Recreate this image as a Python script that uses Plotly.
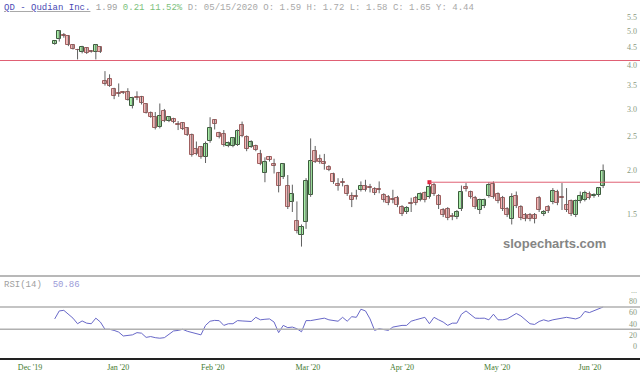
import plotly.graph_objects as go

# ---------------- data ----------------
opens = [4.60,4.76,4.88,4.84,4.58,4.43,4.38,4.48,4.40,4.38,4.51,
         3.61,3.65,3.42,3.33,3.35,3.35,3.06,3.24,3.25,3.09,2.93,2.85,2.67,2.96,2.77,2.81,2.71,2.73,2.64,
         2.53,2.31,2.33,2.18,2.43,2.79,2.56,2.55,2.35,2.35,2.37,2.69,2.50,2.34,2.35,2.23,1.96,2.18,2.09,1.96,
         1.91,1.80,1.62,1.43,1.31,1.42,1.70,2.28,2.16,2.11,2.04,1.95,1.83,1.85,1.80,1.69,1.69,1.76,1.81,1.79,
         1.77,1.77,1.70,1.68,1.66,1.67,1.57,1.52,1.61,1.67,1.65,1.72,1.68,1.82,1.69,1.54,1.55,1.48,1.47,1.55,
         1.79,1.73,1.67,1.54,1.58,1.69,1.83,1.71,1.67,1.55,1.45,1.69,1.57,1.49,1.49,1.49,1.67,1.50,1.57,1.62,
         1.74,1.68,1.59,1.63,1.49,1.63,1.65,1.71,1.69,1.70,1.80]
highs = [4.70,5.05,4.95,4.88,4.60,4.46,4.55,4.50,4.42,4.60,4.53,
         3.85,3.77,3.45,3.55,3.37,3.44,3.25,3.37,3.27,3.11,2.95,2.94,3.11,3.00,2.86,2.83,2.77,2.75,2.66,
         2.55,2.42,2.35,2.42,2.84,2.80,2.58,2.61,2.42,2.49,2.62,2.76,2.52,2.44,2.37,2.29,2.18,2.20,2.16,1.98,
         2.10,1.94,1.82,1.63,1.40,1.90,2.47,2.35,2.22,2.23,2.07,1.97,1.90,1.90,1.82,1.73,1.76,1.86,1.88,1.83,
         1.79,1.86,1.72,1.70,1.76,1.69,1.59,1.58,1.67,1.69,1.73,1.74,1.84,1.84,1.71,1.56,1.57,1.51,1.54,1.81,
         1.84,1.75,1.69,1.66,1.66,1.85,1.86,1.73,1.69,1.57,1.72,1.74,1.59,1.51,1.51,1.51,1.69,1.54,1.59,1.78,
         1.76,1.84,1.78,1.65,1.65,1.74,1.75,1.74,1.72,1.79,2.08]
lows = [4.58,4.68,4.80,4.54,4.44,4.16,4.33,4.31,4.35,4.16,4.34,
        3.50,3.47,3.20,3.25,3.31,3.17,3.01,3.18,3.09,2.91,2.83,2.62,2.64,2.75,2.75,2.73,2.61,2.61,2.51,
        2.19,2.21,2.16,2.10,2.40,2.62,2.47,2.34,2.33,2.33,2.35,2.49,2.27,2.32,2.27,2.07,1.85,2.12,1.96,1.73,
        1.89,1.55,1.52,1.32,1.21,1.36,1.68,2.10,2.09,2.01,1.99,1.83,1.75,1.80,1.69,1.57,1.65,1.74,1.74,1.73,
        1.70,1.72,1.62,1.59,1.61,1.57,1.48,1.50,1.52,1.59,1.63,1.62,1.66,1.69,1.55,1.47,1.44,1.44,1.45,1.53,
        1.74,1.66,1.55,1.50,1.56,1.67,1.66,1.61,1.53,1.47,1.40,1.56,1.44,1.43,1.43,1.41,1.52,1.48,1.51,1.60,
        1.59,1.54,1.52,1.48,1.47,1.61,1.63,1.65,1.67,1.68,1.78]
closes = [4.69,5.03,4.84,4.56,4.46,4.42,4.51,4.33,4.37,4.56,4.36,
          3.53,3.49,3.27,3.32,3.33,3.19,3.23,3.23,3.11,2.93,2.85,2.64,2.87,2.77,2.84,2.75,2.70,2.63,2.53,
          2.22,2.23,2.18,2.38,2.64,2.72,2.49,2.37,2.40,2.47,2.60,2.51,2.30,2.42,2.29,2.09,2.11,2.14,2.06,1.80,
          2.08,1.57,1.71,1.34,1.38,1.87,2.13,2.12,2.11,2.09,2.01,1.85,1.80,1.84,1.71,1.65,1.68,1.81,1.76,1.78,
          1.72,1.76,1.64,1.61,1.65,1.59,1.50,1.56,1.60,1.61,1.71,1.64,1.79,1.71,1.59,1.49,1.46,1.47,1.52,1.74,
          1.77,1.68,1.57,1.64,1.64,1.82,1.68,1.63,1.55,1.49,1.68,1.58,1.46,1.45,1.45,1.45,1.54,1.52,1.53,1.75,
          1.61,1.67,1.54,1.50,1.63,1.69,1.72,1.67,1.70,1.78,1.99]
rsi = [48.6,63,64,57,50,40,45,41,40,50,43,30,30,28,25,18,19,20,24,23,
       15.5,17,15,14,15,21,27,28,30,26.5,24,22.5,20,37,44.5,46,45.5,37,40,40,
       45.6,45,44.5,44,51.5,47,48,48.6,43,24,37,33,34,31,25.5,45.6,45.6,47,48.5,50,
       47,45.5,44.5,51.5,44.5,52.6,51.5,66,63,48.6,28,31,29,28,34,36,37,37,44.5,47,
       48.6,51.5,40,51.5,47,43,37,41,41,57,63,56,50,49.7,50,47,57,47,47,48.6,
       53,58.4,54,47,40,38.7,44,47,44.5,47,48,50,51.5,50,48.6,51.5,62,60,63,66,70]
idx = list(range(len(closes)))

resistance_high = 4.13
resistance_low = 1.85
resistance_start = 82

month_labels = ["Dec '19", "Jan '20", "Feb '20", "Mar '20", "Apr '20", "May '20", "Jun '20"]
month_pos = [-5.4, 13.9, 34.6, 55.4, 76.0, 96.8, 117.1]
price_ticks = [1.5, 2.0, 2.5, 3.0, 3.5, 4.0, 4.5, 5.0, 5.5]
price_tick_text = ["1.5", "2.0", "2.5", "3.0", "3.5", "4.0", "4.5", "5.0", "5.5"]
rsi_ticks = [0, 20, 40, 60, 80, 100]
rsi_tick_text = ["0", "20", "40", "60", "80", "..."]

# ---------------- figure ----------------
up = [c >= o for o, c in zip(opens, closes)]
body_base = [min(o, c) for o, c in zip(opens, closes)]
body_len = [max(abs(c - o), 0.004) for o, c in zip(opens, closes)]
fill_cols = ["#a6eea6" if u else "#f5b8b8" for u in up]
edge_cols = ["#3c5c3c" if u else "#a06060" for u in up]

wx, wy = [], []
for i, h, l in zip(idx, highs, lows):
    wx += [i, i, None]
    wy += [l, h, None]

fig = go.Figure()
fig.add_trace(go.Scatter(x=wx, y=wy, mode="lines", line=dict(color="#606060", width=1),
                         xaxis="x", yaxis="y", showlegend=False, hoverinfo="skip"))
fig.add_trace(go.Bar(x=idx, y=body_len, base=body_base, width=0.88,
                     marker=dict(color=fill_cols, line=dict(color=edge_cols, width=1)),
                     xaxis="x", yaxis="y", showlegend=False, hoverinfo="skip"))

fig.add_trace(go.Scatter(x=[resistance_start], y=[resistance_low], mode="markers",
                         marker=dict(color="#e0203a", size=4, symbol="square"),
                         xaxis="x", yaxis="y", showlegend=False, hoverinfo="skip"))

fig.add_trace(go.Scatter(x=idx, y=rsi, mode="lines",
                         line=dict(color="#6868c8", width=1),
                         xaxis="x2", yaxis="y2", showlegend=False, hoverinfo="skip"))

xr = [-11.97, 128.07]
tick_font = dict(family="Liberation Serif, serif", size=8, color="#8a9a80")

fig.update_layout(
    width=640, height=381,
    margin=dict(l=0, r=0, t=0, b=23),
    paper_bgcolor="white", plot_bgcolor="white",
    bargap=0,
    xaxis=dict(domain=[0, 1], range=xr, showticklabels=False, showgrid=False,
               zeroline=False, anchor="y"),
    yaxis=dict(domain=[0.2514, 1], type="log", range=[0.0214, 0.7893],
               side="right", anchor="x", ticklabelposition="inside",
               tickvals=price_ticks, ticktext=price_tick_text, ticks="",
               showgrid=False, zeroline=False, tickfont=tick_font),
    xaxis2=dict(domain=[0, 1], range=xr, anchor="y2", showgrid=False, zeroline=False,
                tickvals=month_pos, ticktext=month_labels, ticks="",
                showline=True, linecolor="#222", linewidth=2,
                tickfont=dict(family="Liberation Serif, serif", size=8, color="#3f7a2f")),
    yaxis2=dict(domain=[0, 0.229], range=[-21.5, 125.6], anchor="x2",
                side="right", ticklabelposition="inside",
                tickvals=rsi_ticks, ticktext=rsi_tick_text, ticks="",
                showgrid=False, zeroline=False, tickfont=tick_font),
)

shapes = [
    dict(type="line", xref="paper", x0=0, x1=1, yref="y", y0=resistance_high, y1=resistance_high,
         line=dict(color="#e06074", width=1)),
    dict(type="line", xref="x", x0=resistance_start, x1=xr[1], yref="y", y0=resistance_low, y1=resistance_low,
         line=dict(color="#e06074", width=1)),
    dict(type="line", xref="paper", x0=0, x1=1, yref="y2", y0=70, y1=70,
         line=dict(color="#b0b0b0", width=1.5)),
    dict(type="line", xref="paper", x0=0, x1=1, yref="y2", y0=30, y1=30,
         line=dict(color="#b0b0b0", width=1.5)),
    dict(type="line", xref="paper", x0=0, x1=1, yref="paper", y0=0.229, y1=0.229,
         line=dict(color="#b8b8b8", width=2)),
]
fig.update_layout(shapes=shapes)

mono = "Liberation Mono, monospace"
header = ("<u><span style='color:#4a4ab4'>QD - Qudian Inc.</span></u> "
          "<span style='color:#a0a0a0'>1.99</span> "
          "<span style='color:#7cbf7c'>0.21 11.52%</span> "
          "<span style='color:#a8a8a8'>D: 05/15/2020 O: 1.59 H: 1.72 L: 1.58 C: 1.65 Y: 4.44</span>")
fig.add_annotation(x=0, y=1, xref="paper", yref="paper", xanchor="left", yanchor="top",
                   xshift=2, yshift=-1, text=header, showarrow=False,
                   font=dict(family=mono, size=9, color="#a0a0a0"))
fig.add_annotation(x=0, y=0.229, xref="paper", yref="paper", xanchor="left", yanchor="top",
                   xshift=2, yshift=-2,
                   text="<span style='color:#a0a0a0'>RSI(14)</span>  <span style='color:#9a9ad8'>50.86</span>",
                   showarrow=False, font=dict(family=mono, size=9))
fig.add_annotation(x=1, y=0.2514, xref="paper", yref="paper", xanchor="right", yanchor="bottom",
                   xshift=-32, yshift=15, text="<b>slopecharts.com</b>", showarrow=False,
                   font=dict(family="Liberation Sans, Arial, sans-serif", size=13, color="#858585"))

fig.write_html("out.html")
